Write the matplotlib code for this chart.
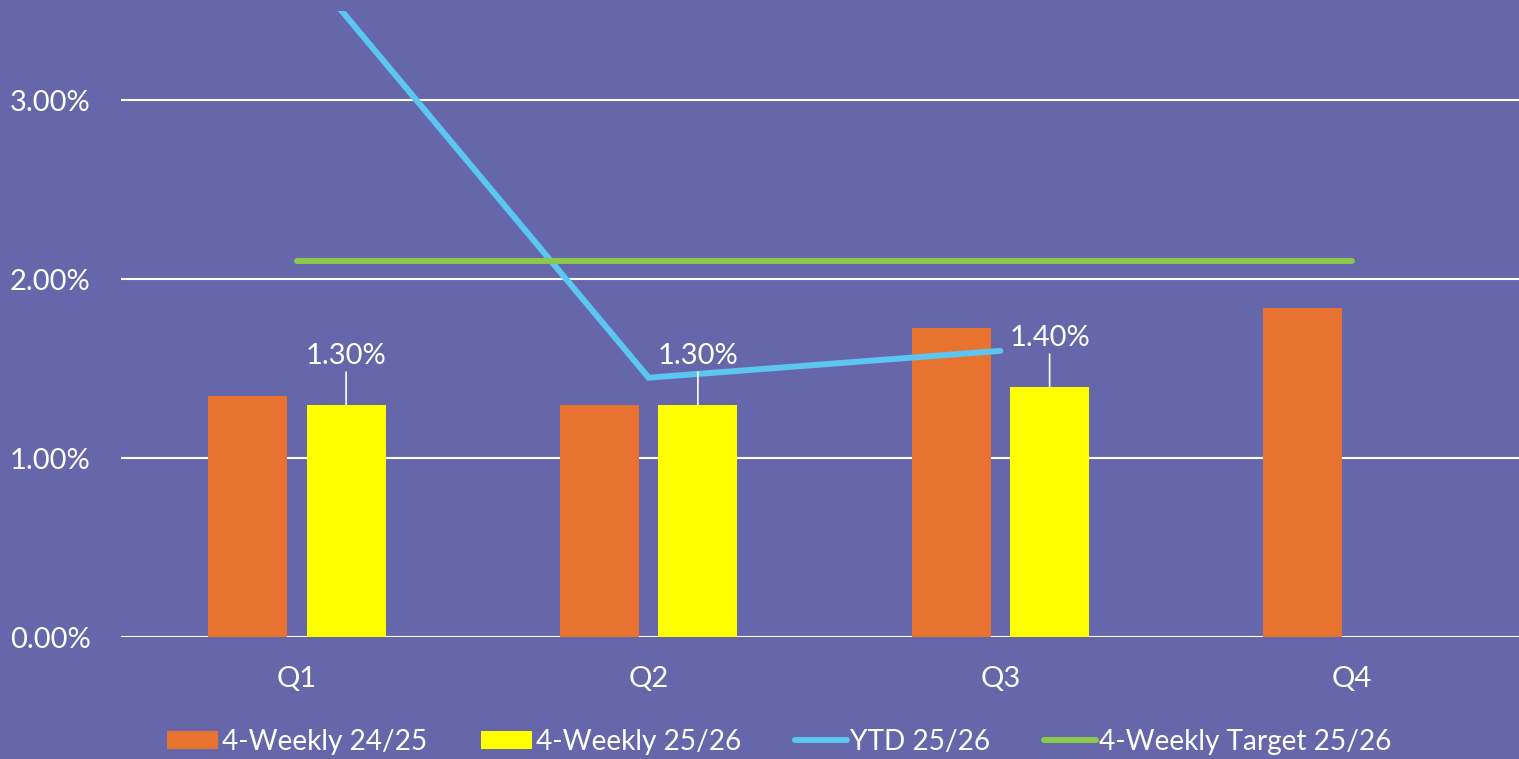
import matplotlib.pyplot as plt
import numpy as np
from matplotlib.lines import Line2D
from matplotlib.patches import Patch

# values in percent
quarters = ["Q1", "Q2", "Q3", "Q4"]
weekly_2425 = [1.35, 1.30, 1.73, 1.84]
weekly_2526 = [1.30, 1.30, 1.40]
ytd_2526 = [3.80, 1.45, 1.60]
target_2526 = [2.10, 2.10, 2.10, 2.10]
y_ticks = [0, 1, 2, 3]
y_tick_labels = ["0.00%", "1.00%", "2.00%", "3.00%"]
legend_labels = ["4-Weekly 24/25", "4-Weekly 25/26", "YTD 25/26",
                 "4-Weekly Target 25/26"]

BG = "#6667AB"
ORANGE = "#E87331"
YELLOW = "#FFFF00"
BLUE = "#5BC6F0"
GREEN = "#8CC84B"
FS = 21
LEG_FS = 20.2


def create_chart():
    plt.rcParams["font.family"] = ["Lato", "DejaVu Sans"]
    fig = plt.figure(figsize=(15.19, 7.59), dpi=100, facecolor=BG)
    ax = fig.add_axes([121 / 1519, 0.1607, 1407 / 1519, 0.8248])
    ax.set_facecolor(BG)

    x = np.arange(len(quarters))
    width = 0.225
    offset = 0.14

    ax.bar(x - offset, weekly_2425, width, color=ORANGE, zorder=3)
    x_new = x[:len(weekly_2526)]
    ax.bar(x_new + offset, weekly_2526, width, color=YELLOW, zorder=3)

    ax.plot(x[:len(ytd_2526)], ytd_2526, color=BLUE, lw=4.3,
            solid_capstyle="round", solid_joinstyle="miter", zorder=4)
    ax.plot(x, target_2526, color=GREEN, lw=4.3,
            solid_capstyle="round", zorder=4)

    # data labels with leader lines on the 25/26 bars
    for xi, val in zip(x_new + offset, weekly_2526):
        ax.annotate("%.2f%%" % val, xy=(xi, val), xytext=(0, 29),
                    textcoords="offset points", ha="center", va="baseline",
                    color="white", fontsize=FS, zorder=5,
                    arrowprops=dict(arrowstyle="-", color="white", lw=1.2,
                                    shrinkA=0, shrinkB=0))

    ax.set_xlim(-0.5, len(quarters) - 0.5)
    ax.set_ylim(0, 3.5)
    ax.set_xticks(x)
    ax.set_xticklabels(quarters)
    ax.set_yticks(y_ticks)
    ax.set_yticklabels(y_tick_labels)
    ax.tick_params(axis="both", length=0, colors="white", labelsize=FS)
    ax.tick_params(axis="y", pad=22)
    ax.tick_params(axis="x", pad=21)
    ax.grid(axis="y", color="white", lw=1.5, zorder=1)
    ax.set_axisbelow(True)
    for spine in ax.spines.values():
        spine.set_visible(False)

    handles = [
        Patch(facecolor=ORANGE),
        Patch(facecolor=YELLOW),
        Line2D([], [], color=BLUE, lw=4.3, solid_capstyle="round"),
        Line2D([], [], color=GREEN, lw=4.3, solid_capstyle="round"),
    ]
    leg = fig.legend(handles, legend_labels, loc="center",
                     bbox_to_anchor=(0.513, 0.0224), ncol=4, frameon=False,
                     fontsize=LEG_FS, handlelength=1.84, handleheight=0.64,
                     handletextpad=0.14, columnspacing=1.9)
    for text in leg.get_texts():
        text.set_color("white")

    fig.savefig("out.png", dpi=100, facecolor=BG)


if __name__ == '__main__':
    create_chart()
